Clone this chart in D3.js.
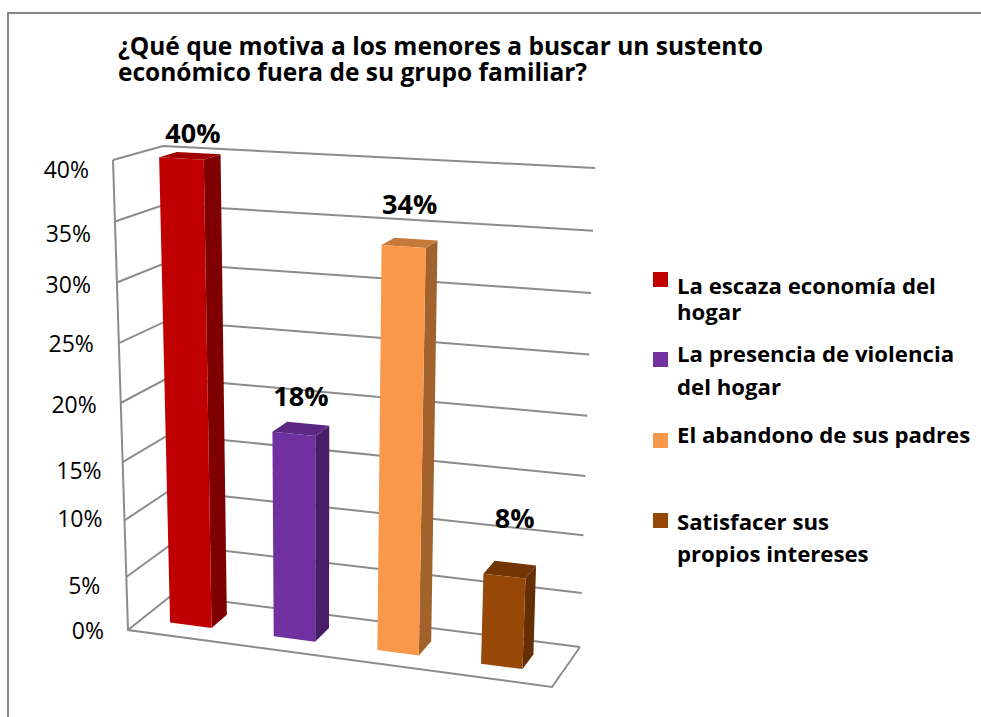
<!DOCTYPE html>
<html>
<head>
<meta charset="utf-8">
<script src="https://cdn.jsdelivr.net/npm/d3@7"></script>
<style>
html, body { margin: 0; padding: 0; background: #fff; }
svg { display: block; }
text { font-family: "Open Sans", sans-serif; fill: #000; }
</style>
</head>
<body>
<svg></svg>
<script>
// chart values
var categories = ["La escaza economía del hogar", "La presencia de violencia del hogar", "El abandono de sus padres", "Satisfacer sus propios intereses"];
var values = [40, 18, 34, 8];
var valueLabels = ["40%", "18%", "34%", "8%"];
var tickValues = [0, 5, 10, 15, 20, 25, 30, 35, 40];
var tickLabels = ["0%", "5%", "10%", "15%", "20%", "25%", "30%", "35%", "40%"];
var titleLines = ["¿Qué que motiva a los menores a buscar un sustento", "económico fuera de su grupo familiar?"];
var legendLines = [["La escaza economía del", "hogar"], ["La presencia de violencia", "del hogar"], ["El abandono de sus padres"], ["Satisfacer sus", "propios intereses"]];

var width = 981,
    height = 717;

var frontColors = ["#C00000", "#7030A0", "#F9984A", "#974706"],
    sideColors = ["#7F0000", "#481F67", "#A1622C", "#642F04"],
    topColors = ["#A00000", "#5C2884", "#C67A3A", "#733504"];

var svg = d3.select("svg")
    .attr("width", width)
    .attr("height", height);

// the box of the 3d plot, as seen on screen. f = front, b = back, l/r, 0 = floor, 1 = top
var box = {
    fl0: [128, 630], fr0: [552, 687], bl0: [172, 595], br0: [580, 647],
    fl1: [113, 160], fr1: [573, 187], bl1: [163, 146], br1: [595, 168]
};

var x = d3.scaleBand().domain(d3.range(categories.length)).range([0, 0.975]).paddingInner(0.6).paddingOuter(0.27);
// the steps get a little wider towards the top, as in a perspective view
var y = d3.scalePow().exponent(1.05).domain([0, 40]).range([0, 1]);
var depth = d3.scaleLinear().domain([0, 1]).range([0, 1]);
var barFront = depth(0.32),
    barBack = depth(0.69);

function mix(a, b, t) {
    return [a[0] + (b[0] - a[0]) * t, a[1] + (b[1] - a[1]) * t];
}

// u along the categories, v up the value axis, w from front to back
function project(u, v, w) {
    var f0 = mix(box.fl0, box.fr0, u),
        f1 = mix(box.fl1, box.fr1, u),
        b0 = mix(box.bl0, box.br0, u),
        b1 = mix(box.bl1, box.br1, u);
    return mix(mix(f0, f1, v), mix(b0, b1, v), w);
}

var line = d3.line();

// frame
svg.append("path")
    .attr("d", "M8," + height + "V13H" + width)
    .attr("fill", "none")
    .attr("stroke", "#868686")
    .attr("stroke-width", 2);

// title
svg.append("g").selectAll("text")
    .data(titleLines)
    .enter().append("text")
    .attr("x", 118)
    .attr("y", function(d, i) { return 55 + i * 26; })
    .attr("font-size", 24.5)
    .attr("font-weight", "bold")
    .text(function(d) { return d; });

// grid on the walls
var grid = svg.append("g")
    .attr("fill", "none")
    .attr("stroke", "#8c8c8c")
    .attr("stroke-width", 2);

grid.selectAll("path.grid")
    .data(tickValues)
    .enter().append("path")
    .attr("class", "grid")
    .attr("d", function(d) {
        return line([project(0, y(d), 0), project(0, y(d), 1), project(1, y(d), 1)]);
    });

// front of the left wall and the floor edges
grid.append("path")
    .attr("d", line([project(0, 1, 0), project(0, 0, 0), project(1, 0, 0), project(1, 0, 1)]));

// tick labels, they sit unevenly in the original
var tickNudge = [[-24, 9], [-26, 17], [-22, 7], [-21, 17], [-24, 10], [-25, 9], [-26, 10], [-24, 21], [-24, 18]];
svg.append("g").selectAll("text")
    .data(tickValues)
    .enter().append("text")
    .attr("text-anchor", "end")
    .attr("font-size", 23)
    .attr("x", function(d, i) { return project(0, y(d), 0)[0] + tickNudge[i][0]; })
    .attr("y", function(d, i) { return project(0, y(d), 0)[1] + tickNudge[i][1]; })
    .text(function(d, i) { return tickLabels[i]; });

// bars
var bars = svg.append("g").selectAll("g")
    .data(values)
    .enter().append("g");

function face(i, d, kind) {
    var u0 = x(i),
        u1 = x(i) + x.bandwidth(),
        v = y(d);
    if (kind == "front") return [project(u0, 0, barFront), project(u1, 0, barFront), project(u1, v, barFront), project(u0, v, barFront)];
    if (kind == "side") return [project(u1, 0, barFront), project(u1, 0, barBack), project(u1, v, barBack), project(u1, v, barFront)];
    return [project(u0, v, barFront), project(u1, v, barFront), project(u1, v, barBack), project(u0, v, barBack)];
}

bars.append("path")
    .attr("fill", function(d, i) { return sideColors[i]; })
    .attr("d", function(d, i) { return line(face(i, d, "side")) + "Z"; });
bars.append("path")
    .attr("fill", function(d, i) { return topColors[i]; })
    .attr("d", function(d, i) { return line(face(i, d, "top")) + "Z"; });
bars.append("path")
    .attr("fill", function(d, i) { return frontColors[i]; })
    .attr("d", function(d, i) { return line(face(i, d, "front")) + "Z"; });

// value labels
var labelNudge = [[3, 13], [0, 23], [0, 29], [5, 42]];
bars.append("text")
    .attr("text-anchor", "middle")
    .attr("font-size", 27)
    .attr("font-weight", "bold")
    .attr("x", function(d, i) { return project(x(i) + x.bandwidth() / 2, y(d), 0.5)[0] + labelNudge[i][0]; })
    .attr("y", function(d, i) { return project(x(i) + x.bandwidth() / 2, y(d), 0.5)[1] - labelNudge[i][1]; })
    .text(function(d, i) { return valueLabels[i]; });

// legend
var legendTop = [272, 352, 433, 513],
    legendFirstLine = [294, 362, 443, 530],
    legendLineGap = [26, 33, 0, 32];

var legend = svg.append("g").selectAll("g")
    .data(categories)
    .enter().append("g");

legend.append("rect")
    .attr("x", 653)
    .attr("y", function(d, i) { return legendTop[i]; })
    .attr("width", 15)
    .attr("height", 15)
    .attr("fill", function(d, i) { return frontColors[i]; });

legend.each(function(d, i) {
    d3.select(this).selectAll("text")
        .data(legendLines[i])
        .enter().append("text")
        .attr("x", 677)
        .attr("y", function(t, j) { return legendFirstLine[i] + j * legendLineGap[i]; })
        .attr("font-size", 22.2)
        .attr("font-weight", "bold")
        .text(function(t) { return t; });
});
</script>
</body>
</html>
